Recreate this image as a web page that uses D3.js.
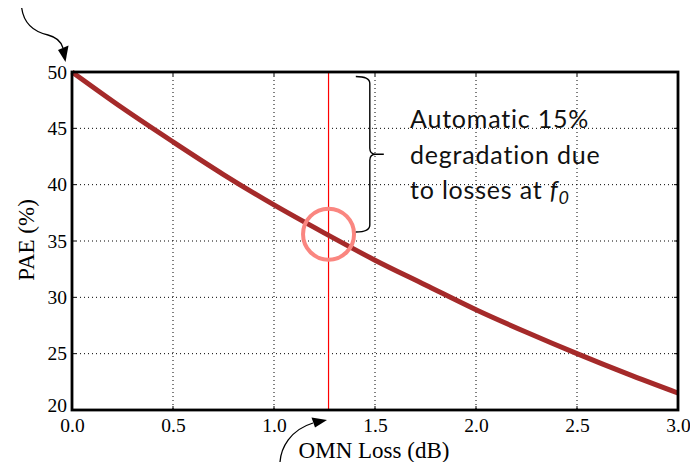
<!DOCTYPE html>
<html>
<head>
<meta charset="utf-8">
<script src="https://cdn.jsdelivr.net/npm/d3@7"></script>
<style>
  html, body { margin: 0; padding: 0; background: #fff; }
  svg { display: block; }
</style>
</head>
<body>
<svg id="chart" width="690" height="462"></svg>
<script>
// ---- data ----
const lossDb  = [0, 0.25, 0.5, 0.75, 1.0, 1.25, 1.5, 1.75, 2.0, 2.25, 2.5, 2.75, 3.0];
const paePct  = [50, 46.8, 43.8, 40.9, 38.2, 35.7, 33.3, 31.1, 28.9, 26.9, 25.0, 23.2, 21.5];
const xTickValues = [0, 0.5, 1.0, 1.5, 2.0, 2.5, 3.0];
const yTickValues = [20, 25, 30, 35, 40, 45, 50];
const markerLoss = 1.27;      // vertical marker (dB)
const markerPae  = 35.6;      // circled operating point (%)
const braceTop = 49.6, braceBottom = 35.8, braceLoss = 1.405;
const noteLines = ["Automatic 15%", "degradation due", "to losses at "];
const xLabel = "OMN Loss (dB)";
const yLabel = "PAE (%)";

// ---- layout ----
const svg = d3.select("#chart");
const L = 72, R = 678, T = 72, B = 410;
const x = d3.scaleLinear().domain([0, 3]).range([L, R]);
const y = d3.scaleLinear().domain([20, 50]).range([B, T]);

// grid
const grid = svg.append("g");
grid.selectAll(".gx").data(xTickValues.slice(1, -1)).join("line")
  .attr("x1", d => x(d)).attr("x2", d => x(d)).attr("y1", T).attr("y2", B)
  .attr("stroke", "#000").attr("stroke-width", 1).attr("stroke-dasharray", "1,3");
grid.selectAll(".gy").data(yTickValues.slice(1, -1)).join("line")
  .attr("y1", d => y(d)).attr("y2", d => y(d)).attr("x1", L).attr("x2", R)
  .attr("stroke", "#000").attr("stroke-width", 1).attr("stroke-dasharray", "1,3");

// axes (labels)
const serif = "'Liberation Serif', 'Times New Roman', serif";
const xAxis = svg.append("g").attr("transform", `translate(0,${B})`)
  .call(d3.axisBottom(x).tickValues(xTickValues).tickFormat(d3.format(".1f")).tickSize(0).tickPadding(8));
const yAxis = svg.append("g").attr("transform", `translate(${L},0)`)
  .call(d3.axisLeft(y).tickValues(yTickValues).tickFormat(d3.format("d")).tickSize(0).tickPadding(5));
[xAxis, yAxis].forEach(a => {
  a.select(".domain").remove();
  a.selectAll("text").attr("font-family", serif).attr("font-size", 19.5).attr("fill", "#000");
});
xAxis.selectAll("text").attr("dy", "0.71em");
yAxis.selectAll(".tick").filter(d => d === 20).select("text").attr("dy", "0.1em");

// inner ticks on all sides
const tk = svg.append("g").attr("stroke", "#000").attr("stroke-width", 1);
xTickValues.forEach(v => {
  tk.append("line").attr("x1", x(v)).attr("x2", x(v)).attr("y1", B).attr("y2", B - 4);
  tk.append("line").attr("x1", x(v)).attr("x2", x(v)).attr("y1", T).attr("y2", T + 4);
});
yTickValues.forEach(v => {
  tk.append("line").attr("y1", y(v)).attr("y2", y(v)).attr("x1", L).attr("x2", L + 4);
  tk.append("line").attr("y1", y(v)).attr("y2", y(v)).attr("x1", R).attr("x2", R - 4);
});

// vertical marker
svg.append("line")
  .attr("x1", x(markerLoss)).attr("x2", x(markerLoss)).attr("y1", T).attr("y2", B)
  .attr("stroke", "#ff0000").attr("stroke-width", 1.2);

// curve
const pts = lossDb.map((d, i) => [d, paePct[i]]);
svg.append("path").datum(pts)
  .attr("d", d3.line().x(d => x(d[0])).y(d => y(d[1])).curve(d3.curveMonotoneX))
  .attr("fill", "none").attr("stroke", "#a52a2a").attr("stroke-width", 5);

// circle
svg.append("circle")
  .attr("cx", x(markerLoss)).attr("cy", y(markerPae)).attr("r", 25.5)
  .attr("fill", "none").attr("stroke", "#fa8680").attr("stroke-width", 4);

// frame
svg.append("rect").attr("x", L).attr("y", T).attr("width", R - L).attr("height", B - T)
  .attr("fill", "none").attr("stroke", "#000").attr("stroke-width", 2.8);

// brace
const bx = x(braceLoss), by1 = y(braceTop), by2 = y(braceBottom), bm = (by1 + by2) / 2;
svg.append("path")
  .attr("d", `M${bx},${by1} Q${bx + 14},${by1} ${bx + 14},${by1 + 7} L${bx + 14},${bm - 6} Q${bx + 14},${bm} ${bx + 20},${bm} L${bx + 28},${bm}
              M${bx + 20},${bm} Q${bx + 14},${bm} ${bx + 14},${bm + 6} L${bx + 14},${by2 - 7} Q${bx + 14},${by2} ${bx},${by2}`)
  .attr("fill", "none").attr("stroke", "#000").attr("stroke-width", 1.4);

// note text
const sans = "Lato, 'Open Sans', sans-serif";
const note = svg.append("g").attr("font-family", sans).attr("font-size", 25)
  .attr("letter-spacing", 0.8).attr("fill", "#111");
const noteY = [128, 164, 199];
noteLines.forEach((t, i) => {
  const tx = note.append("text").attr("x", 410).attr("y", noteY[i]).text(t);
  if (i === 2) {
    tx.append("tspan").attr("font-style", "italic").text("f");
    tx.append("tspan").attr("font-style", "italic").attr("font-size", 18).attr("dy", 5).text("0");
  }
});

// axis titles
svg.append("text").attr("x", 374).attr("y", 458).attr("text-anchor", "middle")
  .attr("font-family", serif).attr("font-size", 23).text(xLabel);
svg.append("text").attr("transform", "translate(34,240) rotate(-90)").attr("text-anchor", "middle")
  .attr("font-family", serif).attr("font-size", 23).text(yLabel);

// curved arrows
svg.append("path").attr("d", "M21.7,8 C24,25 35,32 48,35 C56,37 61,41 63,48")
  .attr("fill", "none").attr("stroke", "#000").attr("stroke-width", 1.3);
svg.append("path").attr("d", "M58,50 L68.5,45.5 L65.5,62 Z").attr("fill", "#000");
svg.append("path").attr("d", "M280,462 C281,448 290,430 313,423")
  .attr("fill", "none").attr("stroke", "#000").attr("stroke-width", 1.3);
svg.append("path").attr("d", "M311.5,417.5 L327,420 L315,427.5 Z").attr("fill", "#000");
</script>
</body>
</html>
